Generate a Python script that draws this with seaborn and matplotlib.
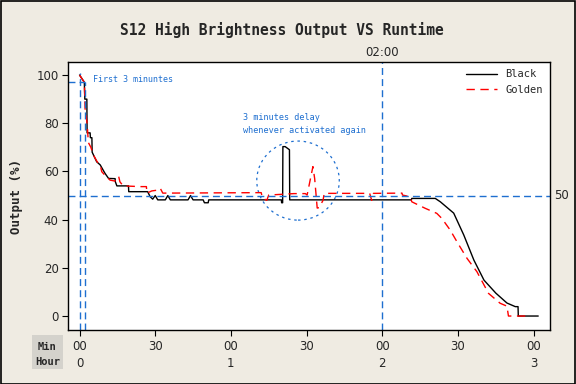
import numpy as np
import pandas as pd
import matplotlib
matplotlib.use("Agg")
import matplotlib.pyplot as plt
from matplotlib.patches import Ellipse, Rectangle
import seaborn as sns

# ---- data ----
black_t = [0, 1.9, 2.1, 2.9, 3.0, 4.2, 4.3, 4.9, 5.0, 6.8, 8.2, 10.1, 11.5, 14.1, 14.2, 14.8, 19.4, 19.5,
           27, 28, 29, 30, 31, 34, 35, 36, 43, 44, 45, 49, 49.5, 51, 51.2, 80, 80.1, 80.5, 80.6, 81.5,
           83.2, 83.3, 131.5, 131.7, 141, 143, 148.3, 152.3, 156.3, 160.3, 165, 169.4, 172.7, 173.8,
           173.9, 181.8]
black_v = [100, 97, 90, 90, 76, 76, 74, 74, 68, 64, 62.7, 59.2, 57.1, 57, 55.7, 54, 54, 51.6,
           51.6, 49.5, 48.5, 50, 48.2, 48.2, 50, 48.2, 48.2, 50, 48.2, 48.2, 47, 47, 48.2, 48.2, 47, 47,
           70.3, 70.3, 69, 48.2, 48.2, 48.8, 48.8, 47.4, 42.7, 33.6, 23.2, 14.9, 9.5, 5.4, 3.9, 3.9,
           0, 0]

golden_t = [0, 1.9, 2.2, 3.0, 3.5, 4.5, 5.5, 7, 8.2, 8.8, 10, 12.1, 14, 15.5, 16, 17.3, 24, 26.5,
            26.7, 28.6, 31.3, 32, 33, 72, 72.5, 74.2, 75, 85, 89.5, 90.2, 92.5, 93.2, 94.2, 95, 96.5,
            97, 115, 115.8, 116.5, 127.8, 128, 131, 131.7, 137, 141.6, 143.6, 146.9, 149.6, 153.6,
            157.5, 162.1, 166.7, 169.4, 170, 178.6]
golden_v = [100, 97, 86, 80, 72, 70, 66.8, 64, 62.7, 59.9, 58.5, 56.4, 56, 58, 55.7, 54, 53.7, 53.7,
            51, 51.9, 52.3, 53, 51, 51.2, 49, 48, 50.2, 50.8, 50.8, 50.2, 62, 57, 44.8, 45, 48,
            50.9, 50.9, 48, 50.9, 51, 50.2, 49.5, 47.4, 44.7, 42.6, 40.5, 35.7, 30.8, 23.9,
            18.4, 9.4, 5.3, 4.1, 0, 0]

series_names = ["Black", "Golden"]
min_labels = ["00", "30", "00", "30", "00", "30", "00"]
hour_labels = ["0", "", "1", "", "2", "", "3"]
x_ticks = [0, 30, 60, 90, 120, 150, 180]
y_ticks = [0, 20, 40, 60, 80, 100]

df = pd.concat([
    pd.DataFrame({"t": black_t, "v": black_v, "series": "Black"}),
    pd.DataFrame({"t": golden_t, "v": golden_v, "series": "Golden"}),
], ignore_index=True)

# ---- style ----
sns.set_theme(style="white")
plt.rcParams["font.family"] = ["DejaVu Sans"]

BG = "#efebe2"
BLUE = "#1e6fd0"
mono = "DejaVu Sans Mono"

fig = plt.figure(figsize=(5.76, 3.84), dpi=100, facecolor=BG)
ax = fig.add_axes([0.1188, 0.1406, 0.955 - 0.1188, 0.8385 - 0.1406])
ax.set_facecolor("white")

sns.lineplot(data=df, x="t", y="v", hue="series", style="series",
             palette={"Black": "black", "Golden": "red"},
             dashes={"Black": "", "Golden": (6, 4)},
             sort=False, estimator=None, linewidth=1.0, ax=ax)

ax.set_xlim(-4.4, 186.5)
ax.set_ylim(-5.8, 105.4)

# reference lines
ax.axhline(50, color=BLUE, lw=1.0, ls=(0, (5, 3)))
ax.axvline(120, color=BLUE, lw=1.0, ls=(0, (5, 3)))
ax.vlines(0, -5.8, 101, color=BLUE, lw=1.0, linestyles=(0, (5, 3)))
ax.vlines(2, -5.8, 97, color=BLUE, lw=1.0, linestyles=(0, (5, 3)))
ax.hlines(97, -4.4, 2, color=BLUE, lw=1.0, linestyles=(0, (5, 3)))

ell = Ellipse((86.6, 56.2), 32.7, 32.8, fill=False, edgecolor=BLUE, lw=0.9, ls=(0, (2, 3)))
ax.add_patch(ell)

ax.text(5.4, 98.3, "First 3 minuntes", color=BLUE, fontsize=6.0, family=mono, va="center", ha="left")
ax.text(64.8, 82.2, "3 minutes delay", color=BLUE, fontsize=6.1, family=mono, va="center", ha="left")
ax.text(64.8, 76.8, "whenever activated again", color=BLUE, fontsize=6.1, family=mono, va="center", ha="left")

# secondary labels
ax.text(120, 106.5, "02:00", ha="center", va="bottom", fontsize=8.5, clip_on=False)
ax.text(188.0, 50, "50", ha="left", va="center", fontsize=8.5, clip_on=False)

# ticks
ax.set_xticks(x_ticks)
ax.set_xticklabels([f"{m}\n{h}" for m, h in zip(min_labels, hour_labels)], fontsize=8.5, linespacing=1.45)
ax.set_yticks(y_ticks)
ax.set_yticklabels([str(v) for v in y_ticks], fontsize=8.5)
ax.tick_params(axis="both", direction="out", length=4, width=0.8, color="black", bottom=True, left=True, pad=3)
ax.set_xlabel("")
ax.set_ylabel("Output (%)", fontsize=9, fontweight="bold", family=mono, labelpad=10)
for s in ax.spines.values():
    s.set_color("black")
    s.set_linewidth(1.0)

leg = ax.legend(title=None, loc="upper right", frameon=False,
                prop={"family": mono, "size": 7.5}, handlelength=3.0, borderaxespad=0.3)

fig.text(0.49, 0.922, "S12 High Brightness Output VS Runtime", ha="center", va="center",
         fontsize=10.5, fontweight="bold", family=mono)

# Min / Hour box
fig.patches.append(Rectangle((32 / 576, 1 - 369 / 384), 31 / 576, 34 / 384, transform=fig.transFigure,
                             facecolor="#d4d2cc", edgecolor="none"))
fig.text(47.5 / 576, 1 - 347 / 384, "Min", ha="center", va="center", fontsize=7.5, fontweight="bold", family=mono)
fig.text(47.5 / 576, 1 - 362 / 384, "Hour", ha="center", va="center", fontsize=7.5, fontweight="bold", family=mono)

# figure border
fig.patches.append(Rectangle((0.001, 0.001), 0.997, 0.997, transform=fig.transFigure,
                             facecolor="none", edgecolor="black", lw=1.2))

fig.savefig("out.png", dpi=100, facecolor=BG)
